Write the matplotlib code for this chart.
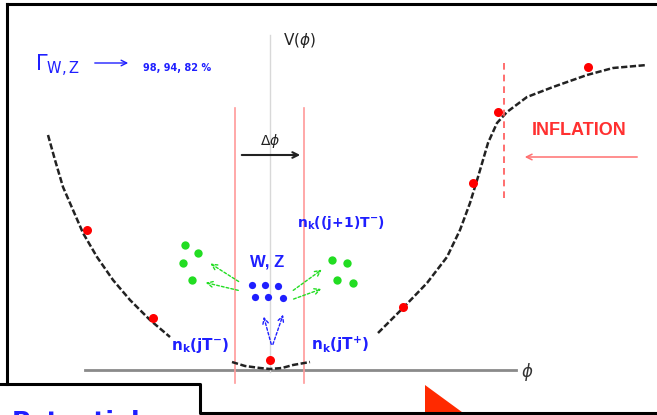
import numpy as np
import matplotlib.pyplot as plt

# potential V(phi), drawn in canvas pixel units (y grows downward)
left_x = [48, 55, 63, 73, 83, 97, 113, 130, 150, 170]
left_y = [135, 160, 187, 210, 233, 257, 280, 300, 320, 337]
well_x = [232, 245, 260, 270, 282, 293, 310]
well_y = [362, 366, 368, 369, 368, 365, 362]
right_x = [378, 403, 427, 447, 460, 470, 478, 488, 497, 507, 527, 553, 587, 613, 647]
right_y = [333, 308, 283, 257, 230, 203, 177, 143, 123, 112, 97, 87, 75, 68, 65]

# field values sampled on the potential
red_x = [87, 153, 270, 403, 473, 498, 588]
red_y = [230, 318, 360, 307, 183, 112, 67]

# W, Z cluster and decay products
wz_x = [252, 265, 278, 255, 268, 283]
wz_y = [285, 285, 286, 297, 297, 298]
green_left_x = [185, 198, 183, 192]
green_left_y = [245, 253, 263, 280]
green_right_x = [332, 347, 337, 353]
green_right_y = [260, 263, 280, 283]

widths = ['98', '94', '82']

blue = '#1f1fff'
green = '#22dd22'
pale_red = '#ff9a9a'

fig = plt.figure(figsize=(6.57, 4.15), dpi=100)
ax = fig.add_axes([0, 0, 1, 1])
ax.set_xlim(0, 657)
ax.set_ylim(415, 0)
ax.axis('off')

# frame of the slide
ax.plot([7, 657], [4, 4], color='black', lw=2.2)
ax.plot([7, 7], [4, 384], color='black', lw=2.2)
ax.plot([0, 200, 200, 657], [384, 384, 413, 413], color='black', lw=2.2)

# axes of the sketch
ax.plot([85, 516], [370, 370], color='#8a8a8a', lw=2)
ax.text(527, 372, r'$\phi$', fontsize=12, color='#333333', ha='center', va='center')
ax.plot([270, 270], [35, 372], color='#d8d8d8', lw=1)
ax.text(300, 40, r'V($\phi$)', fontsize=11, color='#222222', ha='center', va='center')

# window around the minimum
for xv in (235, 304):
    ax.plot([xv, xv], [108, 383], color=pale_red, lw=1.2)
ax.annotate('', xy=(303, 155), xytext=(239, 155),
            arrowprops=dict(arrowstyle='->', color='#222222', lw=1.5))
ax.text(270, 141, r'$\Delta\phi$', fontsize=10, color='#222222', ha='center', va='center')

# potential curve
dash = dict(color='#222222', lw=1.8, ls=(0, (2.5, 1)))
ax.plot(left_x, left_y, **dash)
ax.plot(well_x, well_y, **dash)
ax.plot(right_x, right_y, **dash)
ax.plot(red_x, red_y, 'o', color='#ff0000', ms=6.5, mec='none')

# inflation region
ax.plot([504, 504], [63, 198], color='#ff5555', lw=1.2, ls=(0, (4, 3)))
ax.text(579, 130, 'INFLATION', fontsize=13, color='#ff3030', fontweight='bold',
        family='Liberation Sans', ha='center', va='center')
ax.annotate('', xy=(522, 157), xytext=(640, 157),
            arrowprops=dict(arrowstyle='->', color='#ff7070', lw=1.1))

# decay width label
ax.text(35, 66, r'$\Gamma_{\mathrm{W,Z}}$', fontsize=15, color=blue, va='center')
ax.annotate('', xy=(131, 63), xytext=(92, 63),
            arrowprops=dict(arrowstyle='->', color=blue, lw=1))
ax.text(143, 68, ', '.join(widths) + ' %', fontsize=7, color=blue,
        fontweight='bold', va='center')

# W, Z bosons and their decay products
ax.text(267, 262, 'W, Z', fontsize=12, color=blue, fontweight='bold',
        family='Liberation Sans', ha='center', va='center')
ax.plot(wz_x, wz_y, 'o', color=blue, ms=5.2, mec='none')
ax.plot(green_left_x, green_left_y, 'o', color=green, ms=6, mec='none')
ax.plot(green_right_x, green_right_y, 'o', color=green, ms=6, mec='none')

garrow = dict(arrowstyle='->', color=green, lw=1, ls=(0, (2, 1.5)))
ax.annotate('', xy=(208, 262), xytext=(241, 283), arrowprops=garrow)
ax.annotate('', xy=(203, 282), xytext=(241, 291), arrowprops=garrow)
ax.annotate('', xy=(324, 268), xytext=(291, 292), arrowprops=garrow)
ax.annotate('', xy=(324, 288), xytext=(291, 300), arrowprops=garrow)

barrow = dict(arrowstyle='->', color=blue, lw=1, ls=(0, (2, 1.5)))
ax.annotate('', xy=(263, 314), xytext=(272, 347), arrowprops=barrow)
ax.annotate('', xy=(284, 312), xytext=(272, 347), arrowprops=barrow)

# occupation numbers
ax.text(200, 345, r'$\mathbf{n}_{\mathbf{k}}\mathbf{(jT}^{\mathbf{-}}\mathbf{)}$',
        fontsize=11, color=blue, ha='center', va='center')
ax.text(340, 345, r'$\mathbf{n}_{\mathbf{k}}\mathbf{(jT}^{\mathbf{+}}\mathbf{)}$',
        fontsize=11, color=blue, ha='center', va='center')
ax.text(341, 223, r'$\mathbf{n}_{\mathbf{k}}\mathbf{((j\!+\!1)T}^{\mathbf{-}}\mathbf{)}$',
        fontsize=10, color=blue, ha='center', va='center')

# red marker at the bottom edge
ax.fill([425, 425, 466], [385, 415, 415], color='#ff2a00', lw=0)

# title text of the next box, cut by the edge
ax.text(12, 410, 'Potential', fontsize=18, color=blue, fontweight='bold', va='top')

fig.savefig('out.png', dpi=100)
